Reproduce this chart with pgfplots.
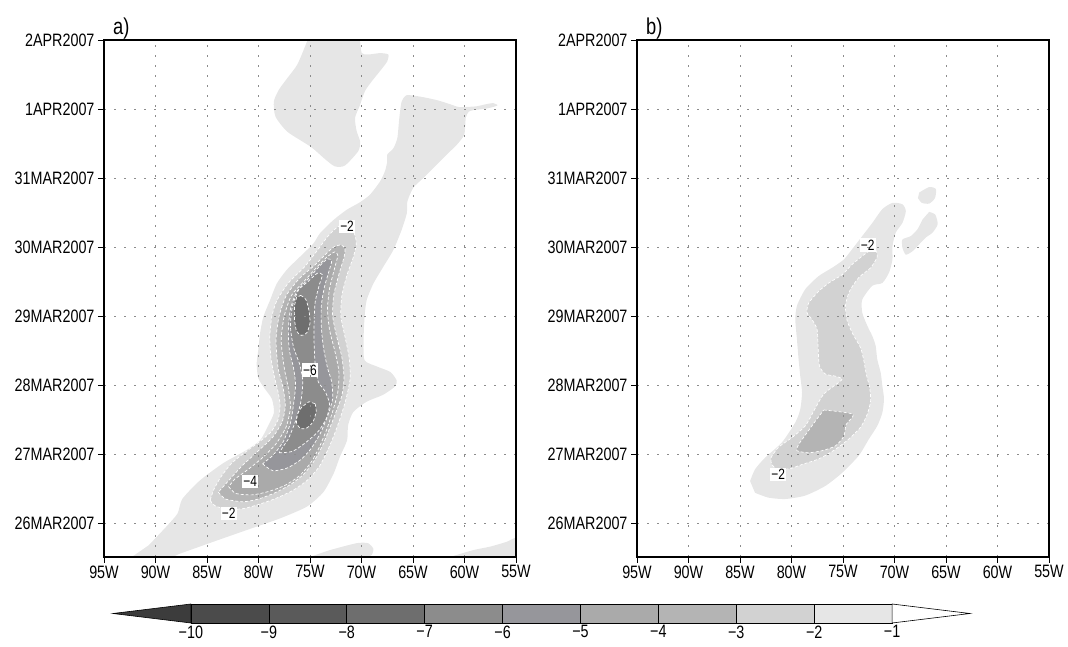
\documentclass[border=0pt]{standalone}
\usepackage{fontspec}
\setmainfont{Liberation Sans}[FakeStretch=0.8]
\usepackage{pgfplots}
\pgfplotsset{compat=1.18}
\definecolor{gA}{HTML}{E6E6E6}
\definecolor{gB}{HTML}{D2D2D2}
\definecolor{gC}{HTML}{B4B4B4}
\definecolor{gD}{HTML}{AAAAAA}
\definecolor{gE}{HTML}{96969B}
\definecolor{gF}{HTML}{8C8C8C}
\definecolor{gG}{HTML}{6E6E6E}
\definecolor{gH}{HTML}{5A5A5A}
\definecolor{gI}{HTML}{4B4B4B}
\definecolor{gJ}{HTML}{3C3C3C}
\tikzset{lab/.style={fill=white, inner sep=1.3bp, font=\fontsize{15}{15}\selectfont}}
\pgfplotsset{
  hov/.style={
    scale only axis, width=412bp, height=517bp,
    xmin=-95, xmax=-55, ymin=-0.49, ymax=7,
    xtick={-95,-90,...,-55},
    xticklabels={95W,90W,85W,80W,75W,70W,65W,60W,55W},
    ytick={0,1,2,3,4,5,6,7},
    yticklabels={26MAR2007,27MAR2007,28MAR2007,29MAR2007,30MAR2007,31MAR2007,1APR2007,2APR2007},
    tick align=outside, tick pos=left,
    major tick length=6bp,
    tick style={black, line width=0.9bp},
    grid=major,
    grid style={black!45, line width=0.8bp, dash pattern=on 2bp off 8bp},
    axis line style={line width=1.8bp},
    axis on top,
    tick label style={font=\fontsize{18}{18}\selectfont},
    xticklabel style={yshift=1bp},
    title style={at={(0,1)}, anchor=south west, xshift=8bp, yshift=-6bp, inner sep=1bp,
      font=\fontsize{23}{23}\selectfont},
    clip=true,
  },
  c1/.style={fill=gA, draw=none, smooth, tension=0.4, no markers},
  cl/.style={draw=white, line width=0.7bp, dash pattern=on 3bp off 2bp, smooth, tension=0.4, no markers},
  c2/.style={cl, fill=gB},
  c3/.style={cl, fill=gC},
  c4/.style={cl, fill=gD},
  c5/.style={cl, fill=gE},
  c6/.style={cl, fill=gF},
  c7/.style={cl, fill=gG},
}
\begin{document}
\begin{tikzpicture}
\useasboundingbox (0,0) rectangle (1068bp,647bp);
% ---------------- panel a ----------------
\begin{axis}[hov, at={(104bp,90bp)}, anchor=south west, title={a)}]
% level -1 (lightest)
\addplot[c1] coordinates {(-75.23,7.0) (-76.21,6.65) (-77.19,6.45) (-78.02,6.28) (-78.51,6.11) (-78.35,5.89) (-77.19,5.67) (-74.90,5.45) (-73.59,5.28) (-72.60,5.17) (-71.62,5.18) (-70.31,5.39) (-70.14,5.53) (-70.47,5.68) (-70.63,5.87) (-70.14,6.06) (-69.66,6.26) (-69.01,6.40) (-68.20,6.55) (-67.50,6.69) (-67.40,6.79) (-68.20,6.81) (-69.34,6.79) (-69.98,6.81) (-70.14,7.0)} -- cycle;
\addplot[c1] coordinates {(-92.3,-0.49) (-88.6,-0.49) (-87.6,-0.44) (-84.4,-0.27) (-81.15,-0.10) (-77.9,0.07) (-75.3,0.24) (-73.7,0.45) (-72.7,0.72) (-72.1,0.96) (-71.4,1.2) (-71.3,1.42) (-70.8,1.61) (-69.5,1.76) (-67.9,1.86) (-66.75,1.98) (-66.6,2.07) (-67.2,2.19) (-68.5,2.27) (-69.7,2.36) (-69.8,2.65) (-69.7,2.99) (-69.5,3.23) (-68.85,3.47) (-67.9,3.71) (-66.9,3.96) (-66.1,4.25) (-65.6,4.49) (-65.55,4.66) (-64.97,4.86) (-64.0,5.0) (-62.86,5.17) (-61.73,5.34) (-60.76,5.48) (-60.02,5.63) (-59.88,5.87) (-59.6,5.96) (-59.1,5.985) (-57.9,6.005) (-56.8,6.05) (-57.2,6.085) (-57.9,6.07) (-58.8,6.04) (-59.8,6.03) (-60.6,6.03) (-61.4,6.07) (-62.70,6.13) (-64.32,6.18) (-65.61,6.20) (-66.10,6.11) (-66.33,5.87) (-66.52,5.58) (-66.91,5.43) (-67.50,5.34) (-67.50,5.24) (-67.72,5.10) (-68.20,4.95) (-69.17,4.76) (-70.14,4.65) (-71.44,4.54) (-72.74,4.39) (-74.03,4.20) (-74.68,4.05) (-75.97,3.86) (-77.26,3.67) (-78.23,3.47) (-78.88,3.23) (-79.53,2.99) (-79.85,2.75) (-80.02,2.51) (-80.18,2.31) (-80.02,2.1) (-79.4,1.95) (-78.7,1.8) (-78.5,1.6) (-79.1,1.40) (-79.85,1.20) (-81.15,1.06) (-83.42,0.87) (-85.68,0.62) (-87.4,0.35) (-87.86,0.14) (-89.01,-0.06) (-90.66,-0.32)} -- cycle;
\addplot[c1] coordinates {(-75.0,-0.49) (-73.06,-0.39) (-70.47,-0.29) (-69.37,-0.29) (-68.85,-0.37) (-69.01,-0.46) (-69.5,-0.49)} -- cycle;
\addplot[c1] coordinates {(-61.41,-0.49) (-59.15,-0.39) (-57.52,-0.34) (-55.9,-0.27) (-55.0,-0.22) (-55.0,-0.49)} -- cycle;
% level -2
\addplot[c2] coordinates {(-84.7,0.33) (-84.2,0.25) (-83.0,0.2) (-81.5,0.21) (-80.0,0.27) (-78.3,0.36) (-76.6,0.48) (-75.2,0.63) (-74.1,0.82) (-73.3,1.05) (-72.6,1.3) (-72.0,1.55) (-71.5,1.8) (-71.1,2.1) (-71.2,2.4) (-71.6,2.7) (-72.0,3.0) (-71.9,3.3) (-71.4,3.6) (-70.8,3.85) (-70.5,4.05) (-70.7,4.2) (-71.2,4.3) (-71.8,4.33) (-72.5,4.27) (-73.3,4.15) (-74.3,3.95) (-75.5,3.72) (-77.1,3.48) (-78.2,3.23) (-78.7,3.0) (-78.9,2.7) (-78.8,2.4) (-78.5,2.15) (-78.1,1.9) (-77.9,1.7) (-78.1,1.5) (-78.8,1.32) (-80.0,1.17) (-81.1,1.05) (-82.6,0.87) (-83.7,0.66) (-84.4,0.47)} -- cycle;
% level -3
\addplot[c3] coordinates {(-83.9,0.45) (-83.2,0.35) (-81.5,0.31) (-80.0,0.35) (-78.4,0.44) (-76.9,0.56) (-75.6,0.71) (-74.6,0.9) (-73.8,1.12) (-73.1,1.37) (-72.5,1.6) (-71.9,1.85) (-71.7,2.1) (-71.9,2.4) (-72.4,2.7) (-72.8,3.0) (-72.7,3.3) (-72.2,3.6) (-71.7,3.85) (-71.6,3.98) (-72.0,4.03) (-72.7,4.0) (-73.6,3.88) (-74.6,3.73) (-76.0,3.55) (-77.3,3.3) (-78.0,3.0) (-78.3,2.65) (-78.1,2.25) (-77.6,1.95) (-77.4,1.7) (-77.7,1.47) (-78.6,1.25) (-80.0,1.05) (-81.6,0.83) (-83.0,0.6)} -- cycle;
% level -4
\addplot[c4] coordinates {(-82.9,0.53) (-82.2,0.43) (-80.6,0.41) (-79.0,0.46) (-77.4,0.55) (-76.0,0.69) (-74.9,0.88) (-74.1,1.1) (-73.4,1.35) (-72.8,1.62) (-72.3,1.9) (-72.2,2.2) (-72.6,2.5) (-73.1,2.8) (-73.3,3.1) (-73.1,3.4) (-72.6,3.7) (-72.3,3.88) (-72.6,3.93) (-73.4,3.85) (-74.4,3.7) (-75.6,3.5) (-76.8,3.3) (-77.5,3.0) (-77.8,2.65) (-77.5,2.25) (-77.1,1.95) (-76.9,1.68) (-77.3,1.4) (-78.3,1.15) (-79.6,0.95) (-81.0,0.78) (-82.3,0.64)} -- cycle;
% level -5
\addplot[c5] coordinates {(-79.6,0.86) (-78.6,0.76) (-77.2,0.8) (-75.9,0.92) (-74.9,1.08) (-74.0,1.3) (-73.3,1.55) (-72.8,1.8) (-72.9,2.05) (-73.3,2.25) (-73.7,2.55) (-73.9,2.85) (-73.9,3.15) (-73.6,3.42) (-73.1,3.68) (-72.9,3.8) (-73.3,3.83) (-74.1,3.72) (-75.1,3.55) (-76.3,3.35) (-76.9,3.1) (-77.1,2.8) (-77.0,2.5) (-76.6,2.25) (-76.4,2.0) (-76.6,1.72) (-76.9,1.45) (-77.6,1.18) (-78.6,0.98)} -- cycle;
% level -6
\addplot[c6] coordinates {(-78.0,1.02) (-76.7,1.04) (-75.4,1.17) (-74.2,1.33) (-73.4,1.52) (-73.1,1.72) (-73.5,1.9) (-74.2,2.05) (-74.5,2.3) (-74.6,2.6) (-74.6,2.9) (-74.5,3.2) (-74.1,3.45) (-73.8,3.6) (-74.3,3.62) (-75.2,3.5) (-76.1,3.38) (-76.7,3.15) (-76.9,2.85) (-76.6,2.55) (-76.0,2.3) (-75.7,2.05) (-75.9,1.75) (-76.4,1.48) (-77.1,1.22)} -- cycle;
% level -7 (cores)
\addplot[c7] coordinates {(-75.9,3.3) (-75.4,3.24) (-75.1,3.08) (-75.0,2.9) (-75.3,2.76) (-75.8,2.72) (-76.3,2.78) (-76.5,2.95) (-76.5,3.15) (-76.3,3.27)} -- cycle;
\addplot[c7] coordinates {(-74.5,1.73) (-74.4,1.62) (-74.7,1.47) (-75.3,1.38) (-75.9,1.37) (-76.3,1.45) (-76.2,1.58) (-75.8,1.68) (-75.1,1.76)} -- cycle;
\node[lab] at (axis cs:-71.4,4.30) {−2};
\node[lab] at (axis cs:-75.0,2.22) {−6};
\node[lab] at (axis cs:-80.8,0.61) {−4};
\node[lab] at (axis cs:-82.9,0.14) {−2};
\end{axis}
% ---------------- panel b ----------------
\begin{axis}[hov, at={(637bp,90bp)}, anchor=south west, title={b)}]
\addplot[c1] coordinates {(-84.02,0.61) (-83.54,0.78) (-82.56,0.95) (-80.93,1.17) (-79.63,1.46) (-79.15,1.65) (-78.98,1.89) (-79.15,2.13) (-79.31,2.37) (-79.47,2.66) (-79.63,2.95) (-79.47,3.15) (-78.66,3.39) (-77.36,3.58) (-76.06,3.70) (-74.92,3.82) (-74.11,3.97) (-73.13,4.16) (-72.15,4.35) (-71.18,4.55) (-70.20,4.64) (-69.23,4.62) (-68.90,4.52) (-69.23,4.35) (-69.88,4.21) (-70.20,4.01) (-70.20,3.82) (-70.53,3.63) (-71.18,3.48) (-72.15,3.44) (-73.13,3.24) (-73.13,3.05) (-72.64,2.86) (-72.15,2.71) (-71.83,2.57) (-71.67,2.37) (-71.34,2.18) (-71.18,1.99) (-71.02,1.80) (-71.18,1.60) (-71.67,1.41) (-72.48,1.22) (-73.46,0.98) (-75.08,0.73) (-76.71,0.54) (-78.66,0.40) (-80.61,0.35) (-82.24,0.37) (-83.54,0.44)} -- cycle;
\addplot[c1] coordinates {(-67.60,4.79) (-66.63,4.87) (-65.98,4.84) (-66.07,4.71) (-66.63,4.63) (-67.34,4.64) (-67.73,4.71)} -- cycle;
\addplot[c1] coordinates {(-66.63,4.51) (-66.04,4.47) (-65.81,4.33) (-66.30,4.21) (-66.95,4.14) (-67.60,4.04) (-68.25,3.94) (-68.90,3.89) (-69.23,3.99) (-69.23,4.11) (-68.41,4.16) (-67.76,4.26) (-67.28,4.40)} -- cycle;
\addplot[c2] coordinates {(-71.83,3.96) (-71.67,3.86) (-72.32,3.70) (-73.46,3.56) (-74.37,3.36) (-74.76,3.15) (-74.59,2.93) (-74.04,2.74) (-73.29,2.54) (-72.97,2.35) (-72.74,2.16) (-72.41,1.96) (-72.32,1.77) (-72.64,1.58) (-73.29,1.39) (-74.43,1.22) (-75.73,1.07) (-77.36,0.93) (-78.98,0.85) (-80.12,0.79) (-81.3,0.78) (-81.91,0.85) (-81.98,0.95) (-81.26,1.10) (-79.96,1.24) (-78.66,1.41) (-77.75,1.65) (-76.87,1.87) (-75.41,2.04) (-75.08,2.09) (-75.73,2.13) (-76.71,2.16) (-77.29,2.28) (-77.42,2.57) (-77.52,2.81) (-78.01,2.95) (-78.50,3.05) (-78.33,3.19) (-77.36,3.36) (-76.38,3.48) (-75.08,3.60) (-74.11,3.75) (-73.13,3.87) (-72.48,3.94)} -- cycle;
\addplot[c3] coordinates {(-76.87,1.64) (-74.04,1.58) (-74.69,1.43) (-74.92,1.26) (-75.73,1.12) (-77.03,1.05) (-78.33,1.02) (-79.47,1.05) (-79.31,1.14) (-78.50,1.31) (-77.68,1.48)} -- cycle;
\node[lab] at (axis cs:-72.6,4.03) {−2};
\node[lab] at (axis cs:-81.3,0.71) {−2};
\end{axis}
% ---------------- colour bar ----------------
\begin{axis}[at={(113bp,24bp)}, anchor=south west, scale only axis,
  width=857bp, height=19bp, xmin=-11, xmax=0, ymin=0, ymax=1,
  axis line style={draw=none}, tick style={draw=none}, ytick=\empty,
  xtick={-10,-9,-8,-7,-6,-5,-4,-3,-2,-1},
  xticklabels={−10,−9,−8,−7,−6,−5,−4,−3,−2,−1},
  xtick pos=bottom, clip=false,
  tick label style={font=\fontsize{18}{18}\selectfont},
  xticklabel style={yshift=1bp}]
\addplot[fill=gJ, draw=black, line width=0.6bp] coordinates {(-11,0.5) (-10,0) (-10,1)} -- cycle;
\addplot[fill=gI, draw=black, line width=0.6bp] coordinates {(-10,0) (-9,0) (-9,1) (-10,1)} -- cycle;
\addplot[fill=gH, draw=black, line width=0.6bp] coordinates {(-9,0) (-8,0) (-8,1) (-9,1)} -- cycle;
\addplot[fill=gG, draw=black, line width=0.6bp] coordinates {(-8,0) (-7,0) (-7,1) (-8,1)} -- cycle;
\addplot[fill=gF, draw=black, line width=0.6bp] coordinates {(-7,0) (-6,0) (-6,1) (-7,1)} -- cycle;
\addplot[fill=gE, draw=black, line width=0.6bp] coordinates {(-6,0) (-5,0) (-5,1) (-6,1)} -- cycle;
\addplot[fill=gD, draw=black, line width=0.6bp] coordinates {(-5,0) (-4,0) (-4,1) (-5,1)} -- cycle;
\addplot[fill=gC, draw=black, line width=0.6bp] coordinates {(-4,0) (-3,0) (-3,1) (-4,1)} -- cycle;
\addplot[fill=gB, draw=black, line width=0.6bp] coordinates {(-3,0) (-2,0) (-2,1) (-3,1)} -- cycle;
\addplot[fill=gA, draw=black, line width=0.6bp] coordinates {(-2,0) (-1,0) (-1,1) (-2,1)} -- cycle;
\addplot[fill=white, draw=black, line width=0.6bp] coordinates {(-1,0) (0,0.5) (-1,1)} -- cycle;
\end{axis}
\end{tikzpicture}
\end{document}
